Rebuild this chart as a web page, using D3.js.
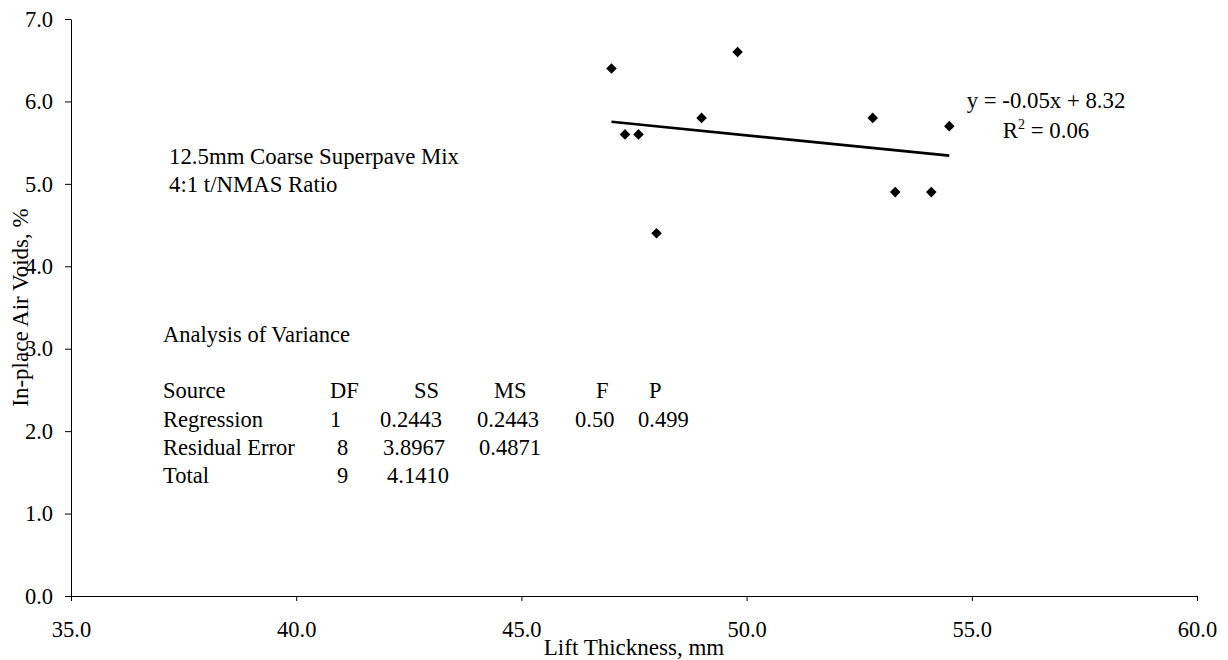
<!DOCTYPE html>
<html><head><meta charset="utf-8">
<script src="https://cdn.jsdelivr.net/npm/d3@7"></script>
<style>
body{margin:0;background:#fff}
svg text{font-family:"Liberation Serif","Times New Roman",serif !important;fill:#000}
</style>
</head><body><svg id="chart" width="1228" height="660"></svg>
<script>
// ---- data ----
const liftThickness = [47.0, 47.3, 47.6, 48.0, 49.0, 49.8, 52.8, 53.3, 54.1, 54.5];
const airVoids      = [6.4, 5.6, 5.6, 4.4, 5.8, 6.6, 5.8, 4.9, 4.9, 5.7];
const xTicks = [35, 40, 45, 50, 55, 60];
const yTicks = [0, 1, 2, 3, 4, 5, 6, 7];
const xTitle = "Lift Thickness, mm";
const yTitle = "In-place Air Voids, %";
const mixNotes = ["12.5mm Coarse Superpave Mix", "4:1 t/NMAS Ratio"];
const anovaTitle = "Analysis of Variance";
const anovaHeader     = ["Source", "DF", "SS", "MS", "F", "P"];
const anovaRegression = ["Regression", "1", "0.2443", "0.2443", "0.50", "0.499"];
const anovaResidual   = ["Residual Error", "8", "3.8967", "0.4871"];
const anovaTotal      = ["Total", "9", "4.1410"];

// ---- layout ----
const plot = {left: 71, right: 1197, top: 19, bottom: 596};
const FS = 22.5;
const SERIF = '"Liberation Serif", "Times New Roman", serif';
const svg = d3.select("#chart").style("font-family", SERIF);

const x = d3.scaleLinear().domain([35, 60]).range([plot.left, plot.right]);
const y = d3.scaleLinear().domain([0, 7]).range([plot.bottom, plot.top]);
const fmt1 = d3.format(".1f");
const fmt2 = v => v.toFixed(2);

// axes
const gy = svg.append("g").attr("transform", `translate(${plot.left},0)`)
  .call(d3.axisLeft(y).tickValues(yTicks).tickFormat(fmt1).tickSize(6).tickSizeOuter(0).tickPadding(12));
const gx = svg.append("g").attr("transform", `translate(0,${plot.bottom})`)
  .call(d3.axisBottom(x).tickValues(xTicks).tickFormat(fmt1).tickSize(5).tickSizeOuter(0).tickPadding(20));
[gx, gy].forEach(g => {
  g.attr("font-family", null).attr("font-size", null);
  g.selectAll("text").style("font-family", SERIF).style("font-size", FS + "px").attr("fill", "#000");
  g.selectAll("line,path").attr("stroke", "#000").attr("stroke-width", 1);
});

function label(sel, size) {
  return sel.style("font-family", SERIF).style("font-size", size + "px").attr("fill", "#000");
}

// axis titles
label(svg.append("text"), 23).attr("x", (plot.left + plot.right) / 2).attr("y", 655)
  .attr("text-anchor", "middle").text(xTitle);
label(svg.append("text"), 23).attr("transform", `translate(28,${(plot.top + plot.bottom) / 2}) rotate(-90)`)
  .attr("text-anchor", "middle").text(yTitle);

// regression (least squares)
const mx = d3.mean(liftThickness), my = d3.mean(airVoids);
let sxy = 0, sxx = 0, syy = 0;
liftThickness.forEach((xi, i) => {
  sxy += (xi - mx) * (airVoids[i] - my);
  sxx += (xi - mx) ** 2;
  syy += (airVoids[i] - my) ** 2;
});
const slope = sxy / sxx, intercept = my - slope * mx;
const r2 = (sxy * sxy / sxx) / syy;
const ext = d3.extent(liftThickness);
svg.append("path")
  .attr("d", d3.line()(ext.map(v => [x(v), y(intercept + slope * v)])))
  .attr("stroke", "#000").attr("stroke-width", 2.6).attr("fill", "none");

// points
svg.append("g").selectAll("path").data(liftThickness).join("path")
  .attr("d", d3.symbol(d3.symbolSquare, 56))
  .attr("transform", (d, i) => `translate(${x(d)},${y(airVoids[i])}) rotate(45)`)
  .attr("fill", "#000");

// equation label
const eq = label(svg.append("text"), 22.8).attr("text-anchor", "middle");
eq.append("tspan").attr("x", 1046).attr("y", 108)
  .text(`y = ${fmt2(slope)}x + ${fmt2(intercept)}`);
const r2t = eq.append("tspan").attr("x", 1046).attr("y", 138);
r2t.append("tspan").text("R");
r2t.append("tspan").style("font-size", "14px").attr("dy", -9).text("2");
r2t.append("tspan").attr("dy", 9).text(` = ${fmt2(r2)}`);

// mix notes
mixNotes.forEach((t, i) => {
  label(svg.append("text"), 22.8).attr("x", 169).attr("y", 164 + i * 28).text(t);
});

// ANOVA
label(svg.append("text"), FS).attr("x", 163).attr("y", 342).text(anovaTitle);
const rows = [
  {cells: anovaHeader,     y: 398, xs: [163, 330, 414, 494, 596, 649]},
  {cells: anovaRegression, y: 427, xs: [163, 330, 380, 477, 575, 638]},
  {cells: anovaResidual,   y: 455, xs: [163, 337, 383, 479]},
  {cells: anovaTotal,      y: 483, xs: [163, 337, 387]}
];
rows.forEach(r => {
  r.cells.forEach((c, j) => {
    label(svg.append("text"), FS).attr("x", r.xs[j]).attr("y", r.y).text(c);
  });
});
</script>
</body></html>
